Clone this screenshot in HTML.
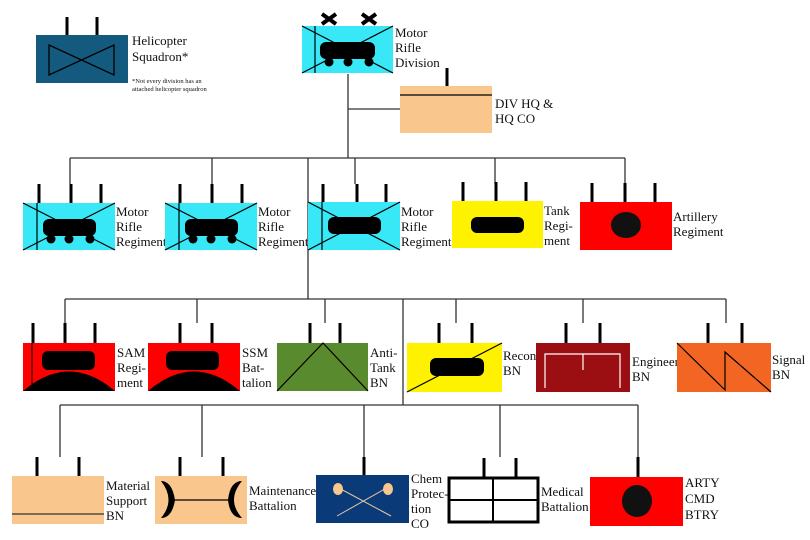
<!DOCTYPE html>
<html><head><style>
html,body{margin:0;padding:0;background:#fff;}
svg{display:block;}
text{font-family:"Liberation Serif",serif;font-size:13px;fill:#111;}
</style></head><body>
<svg width="810" height="540" viewBox="0 0 810 540" xmlns="http://www.w3.org/2000/svg">
<g stroke="#333" stroke-width="1.3" fill="none">
<line x1="348" y1="74" x2="348" y2="158"/>
<line x1="348" y1="109" x2="400" y2="109"/>
<line x1="70" y1="158" x2="625" y2="158"/>
<line x1="70" y1="158" x2="70" y2="184"/>
<line x1="212" y1="158" x2="212" y2="184"/>
<line x1="355" y1="158" x2="355" y2="184"/>
<line x1="495" y1="158" x2="495" y2="184"/>
<line x1="625" y1="158" x2="625" y2="184"/>
<line x1="308" y1="158" x2="308" y2="299"/>
<line x1="65" y1="299" x2="726" y2="299"/>
<line x1="65" y1="299" x2="65" y2="323"/>
<line x1="197" y1="299" x2="197" y2="323"/>
<line x1="325" y1="299" x2="325" y2="323"/>
<line x1="456" y1="299" x2="456" y2="323"/>
<line x1="583" y1="299" x2="583" y2="323"/>
<line x1="726" y1="299" x2="726" y2="323"/>
<line x1="403" y1="299" x2="403" y2="405"/>
<line x1="60" y1="405" x2="638" y2="405"/>
<line x1="60" y1="405" x2="60" y2="457"/>
<line x1="202" y1="405" x2="202" y2="457"/>
<line x1="364" y1="405" x2="364" y2="457"/>
<line x1="500" y1="405" x2="500" y2="457"/>
<line x1="638" y1="405" x2="638" y2="457"/>
</g>

<g stroke="#000" stroke-width="3">
<line x1="67" y1="17" x2="67" y2="35"/><line x1="97" y1="17" x2="97" y2="35"/>
<line x1="447" y1="68" x2="447" y2="86"/>
<line x1="39" y1="184" x2="39" y2="203"/><line x1="71" y1="184" x2="71" y2="203"/><line x1="101" y1="184" x2="101" y2="203"/>
<line x1="180" y1="184" x2="180" y2="203"/><line x1="212" y1="184" x2="212" y2="203"/><line x1="242" y1="184" x2="242" y2="203"/>
<line x1="323" y1="184" x2="323" y2="203"/><line x1="357" y1="184" x2="357" y2="203"/><line x1="386" y1="184" x2="386" y2="203"/>
<line x1="463" y1="182" x2="463" y2="201"/><line x1="496" y1="182" x2="496" y2="201"/><line x1="526" y1="182" x2="526" y2="201"/>
<line x1="592" y1="183" x2="592" y2="202"/><line x1="625" y1="183" x2="625" y2="202"/><line x1="655" y1="183" x2="655" y2="202"/>
<line x1="33" y1="323" x2="33" y2="343"/><line x1="65" y1="323" x2="65" y2="343"/><line x1="95" y1="323" x2="95" y2="343"/>
<line x1="180" y1="323" x2="180" y2="343"/><line x1="212" y1="323" x2="212" y2="343"/>
<line x1="310" y1="323" x2="310" y2="343"/><line x1="340" y1="323" x2="340" y2="343"/>
<line x1="439" y1="323" x2="439" y2="343"/><line x1="472" y1="323" x2="472" y2="343"/>
<line x1="566" y1="323" x2="566" y2="343"/><line x1="600" y1="323" x2="600" y2="343"/>
<line x1="708" y1="323" x2="708" y2="343"/><line x1="742" y1="323" x2="742" y2="343"/>
<line x1="37" y1="457" x2="37" y2="476"/><line x1="79" y1="457" x2="79" y2="476"/>
<line x1="180" y1="457" x2="180" y2="476"/><line x1="223" y1="457" x2="223" y2="476"/>
<line x1="364" y1="457" x2="364" y2="475"/>
<line x1="484" y1="458" x2="484" y2="477"/><line x1="516" y1="458" x2="516" y2="477"/>
<line x1="638" y1="457" x2="638" y2="477"/>
</g>

<rect x="36" y="35" width="92" height="48" fill="#135a7e"/>
<path d="M49,45 L114,75 L114,45 L49,75 Z" fill="none" stroke="#000" stroke-width="1.3"/>
<text x="132" y="45">Helicopter</text><text x="132" y="61">Squadron*</text>
<text x="132" y="83" style="font-size:6.5px">*Not every division has an</text>
<text x="132" y="91" style="font-size:6.5px">attached helicopter squadron</text>

<g stroke="#000" stroke-width="4"><path d="M322,14 L336,24 M336,14 L322,24 M362,14 L376,24 M376,14 L362,24"/></g>
<rect x="302" y="26" width="91" height="47" fill="#38e8f6"/>
<path d="M302,26 L393,73 M393,26 L302,73 M315,26 L315,73" stroke="#000" stroke-width="1.2"/>
<rect x="320" y="42" width="55" height="17" rx="6" fill="#000"/>
<circle cx="329" cy="62" r="4.5"/><circle cx="348" cy="62" r="4.5"/><circle cx="369" cy="62" r="4.5"/>
<text x="395" y="37">Motor</text><text x="395" y="52">Rifle</text><text x="395" y="67">Division</text>

<rect x="400" y="86" width="92" height="47" fill="#f9c78d"/>
<line x1="400" y1="95" x2="492" y2="95" stroke="#000" stroke-width="1.2"/>
<text x="495" y="108">DIV HQ &amp;</text><text x="495" y="123">HQ CO</text>

<g>
<rect x="23" y="203" width="92" height="47" fill="#38e8f6"/>
<path d="M23,250 L115,203 M23,203 L115,250 M37,203 L37,250" stroke="#000" stroke-width="1.2"/>
<rect x="43" y="219" width="53" height="17" rx="6"/>
<circle cx="51" cy="239" r="4.5"/><circle cx="69" cy="239" r="4.5"/><circle cx="90" cy="239" r="4.5"/>
<text x="116" y="216">Motor</text><text x="116" y="231">Rifle</text><text x="116" y="246">Regiment</text>
</g>
<g>
<rect x="165" y="203" width="92" height="47" fill="#38e8f6"/>
<path d="M165,250 L257,203 M165,203 L257,250 M179,203 L179,250" stroke="#000" stroke-width="1.2"/>
<rect x="185" y="219" width="53" height="17" rx="6"/>
<circle cx="193" cy="239" r="4.5"/><circle cx="211" cy="239" r="4.5"/><circle cx="232" cy="239" r="4.5"/>
<text x="258" y="216">Motor</text><text x="258" y="231">Rifle</text><text x="258" y="246">Regiment</text>
</g>
<g>
<rect x="308" y="202" width="92" height="48" fill="#38e8f6"/>
<path d="M308,250 L400,202 M308,202 L400,250 M322,202 L322,250" stroke="#000" stroke-width="1.2"/>
<rect x="328" y="217" width="53" height="17" rx="6"/>
<text x="401" y="216">Motor</text><text x="401" y="231">Rifle</text><text x="401" y="246">Regiment</text>
</g>
<rect x="452" y="201" width="91" height="47" fill="#fff200"/>
<rect x="471" y="217" width="53" height="16" rx="6"/>
<text x="544" y="215">Tank</text><text x="544" y="230">Regi-</text><text x="544" y="245">ment</text>
<rect x="580" y="202" width="92" height="48" fill="#ff0000"/>
<ellipse cx="626" cy="225" rx="15" ry="13" fill="#111"/>
<text x="673" y="221">Artillery</text><text x="673" y="236">Regiment</text>

<rect x="23" y="343" width="92" height="48" fill="#ff0000"/>
<rect x="42" y="351" width="53" height="19" rx="6"/>
<path d="M23,391 Q69,352 115,391 Z"/>
<line x1="32" y1="343" x2="32" y2="391" stroke="#000" stroke-width="1"/>
<text x="117" y="357">SAM</text><text x="117" y="372">Regi-</text><text x="117" y="387">ment</text>
<rect x="148" y="343" width="92" height="48" fill="#ff0000"/>
<rect x="166" y="351" width="53" height="19" rx="6"/>
<path d="M148,391 Q194,352 240,391 Z"/>
<text x="242" y="357">SSM</text><text x="242" y="372">Bat-</text><text x="242" y="387">talion</text>
<rect x="277" y="343" width="91" height="48" fill="#5a8a2e"/>
<path d="M277,391 L323,343 L368,391" fill="none" stroke="#000" stroke-width="1.2"/>
<text x="370" y="357">Anti-</text><text x="370" y="372">Tank</text><text x="370" y="387">BN</text>
<rect x="407" y="343" width="95" height="49" fill="#fff200"/>
<line x1="407" y1="392" x2="502" y2="343" stroke="#000" stroke-width="1.2"/>
<rect x="430" y="358" width="54" height="18" rx="6"/>
<text x="503" y="360">Recon</text><text x="503" y="375">BN</text>
<rect x="536" y="343" width="94" height="49" fill="#9b0f12"/>
<path d="M545,388 V354 H620 V388 M583,354 V370" fill="none" stroke="#fff" stroke-width="1.2"/>
<text x="632" y="366">Engineer</text><text x="632" y="381">BN</text>
<rect x="677" y="343" width="94" height="49" fill="#f26522"/>
<path d="M677,343 L725,390 L725,352 L771,392" fill="none" stroke="#000" stroke-width="1.2"/>
<text x="772" y="364">Signal</text><text x="772" y="379">BN</text>

<rect x="12" y="476" width="92" height="48" fill="#f9c78d"/>
<line x1="12" y1="514" x2="104" y2="514" stroke="#333" stroke-width="1.3"/>
<text x="106" y="490">Material</text><text x="106" y="505">Support</text><text x="106" y="520">BN</text>
<rect x="155" y="476" width="92" height="48" fill="#f9c78d"/>
<line x1="170" y1="500" x2="232" y2="500" stroke="#000" stroke-width="1.3"/>
<path d="M161,481 Q176,500 161,518 Q172,518 175,500 Q172,481 161,481 Z"/>
<path d="M242,481 Q226,500 242,518 Q230,518 228,500 Q230,481 242,481 Z"/>
<text x="249" y="495">Maintenance</text><text x="249" y="510">Battalion</text>
<rect x="316" y="475" width="93" height="48" fill="#0b3a78"/>
<path d="M337,487 L391,516 M390,486 L337,516" stroke="#e8c7a0" stroke-width="1"/>
<ellipse cx="338" cy="489" rx="5" ry="6" fill="#f9c78d"/>
<ellipse cx="388" cy="489" rx="5" ry="6" fill="#f9c78d"/>
<text x="411" y="483">Chem</text><text x="411" y="498">Protec-</text><text x="411" y="513">tion</text><text x="411" y="528">CO</text>
<rect x="449" y="478" width="89" height="44" fill="#fff" stroke="#000" stroke-width="3"/>
<path d="M449,500 H538 M493,478 V522" stroke="#000" stroke-width="2"/>
<text x="541" y="496">Medical</text><text x="541" y="511">Battalion</text>
<rect x="590" y="477" width="93" height="49" fill="#ff0000"/>
<ellipse cx="637" cy="501" rx="15" ry="16" fill="#111"/>
<text x="685" y="487">ARTY</text><text x="685" y="503">CMD</text><text x="685" y="519">BTRY</text>
</svg>
</body></html>
